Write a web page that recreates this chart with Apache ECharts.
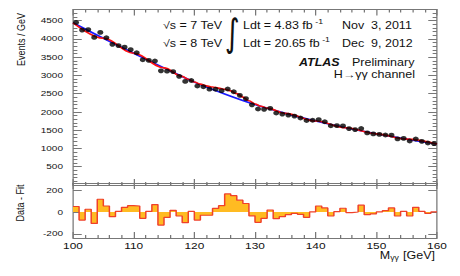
<!DOCTYPE html>
<html>
<head>
<meta charset="utf-8">
<script src="https://cdn.jsdelivr.net/npm/echarts@6/dist/echarts.min.js"></script>
<style>
html,body{margin:0;padding:0;background:#fff;overflow:hidden;}
#wrap{width:460px;height:276px;overflow:hidden;}
#chart{width:368px;height:276px;transform:scaleX(1.25);transform-origin:0 0;}
</style>
</head>
<body>
<div id="wrap"><div id="chart"></div></div>
<script>
// ---- data ----
const binLow = [100,101,102,103,104,105,106,107,108,109,110,111,112,113,114,115,116,117,118,119,
  120,121,122,123,124,125,126,127,128,129,130,131,132,133,134,135,136,137,138,139,
  140,141,142,143,144,145,146,147,148,149,150,151,152,153,154,155,156,157,158,159];
const binCenter = [100.5,101.5,102.5,103.5,104.5,105.5,106.5,107.5,108.5,109.5,110.5,111.5,112.5,113.5,114.5,115.5,116.5,117.5,118.5,119.5,
  120.5,121.5,122.5,123.5,124.5,125.5,126.5,127.5,128.5,129.5,130.5,131.5,132.5,133.5,134.5,135.5,136.5,137.5,138.5,139.5,
  140.5,141.5,142.5,143.5,144.5,145.5,146.5,147.5,148.5,149.5,150.5,151.5,152.5,153.5,154.5,155.5,156.5,157.5,158.5,159.5];
const eventsPerGeV = [4448,4239,4253,4038,4175,4029,3849,3815,3771,3704,3620,3427,3410,3393,3125,3116,3103,2973,2834,2859,
  2709,2688,2623,2621,2581,2627,2553,2453,2365,2194,2081,2070,2098,1970,1941,1914,1885,1833,1764,1771,
  1787,1732,1621,1624,1618,1543,1516,1545,1425,1399,1385,1368,1364,1261,1275,1205,1258,1194,1149,1134];
const dataMinusFit = [50,-74,25,-105,117,55,-43,5,43,58,55,-58,5,68,-120,-50,15,-37,-98,5,
  -74,-30,-30,33,58,166,150,108,78,-35,-95,-58,18,-62,-43,-25,-12,-22,-49,0,
  55,37,-37,3,34,-6,0,62,-25,-18,0,12,37,-37,6,-37,43,6,-12,0];
const bkgMass = [100,105,110,115,120,125,130,135,140,145,150,155,160];
const bkgFit  = [4440,4015,3605,3205,2815,2490,2200,1960,1750,1565,1400,1255,1120];
const sbMass = [100,105,110,115,118,119,120,121,122,123,124,125,126,127,128,129,130,131,132,135,140,145,150,155,160];
const sbFit  = [4440,4015,3605,3205,2972,2895,2820,2760,2712,2680,2652,2620,2575,2500,2405,2305,2218,2157,2105,1960,1750,1565,1400,1255,1120];
const xTicks = [100,110,120,130,140,150,160];
const yTicksTop = [500,1000,1500,2000,2500,3000,3500,4000,4500];
const yTicksBottom = [-200,0,200];

// ---- chart ----
const chart = echarts.init(document.getElementById('chart'), null, {renderer:'svg'});
const FONT = '"Liberation Sans", Arial, Helvetica, sans-serif';
const AX = '#777';
const pts = binCenter.map((x,i)=>[x, eventsPerGeV[i]]);
const bkg = bkgMass.map((x,i)=>[x, bkgFit[i]]);
const sb = sbMass.map((x,i)=>[x, sbFit[i]]);
const resid = binLow.map((x,i)=>[x, dataMinusFit[i]]);
resid.push([160, dataMinusFit[dataMinusFit.length-1]]);
const plain = v => String(v);

function xAx(grid, pos, showLabel){
  return {
    type:'value', gridIndex:grid, position:pos, min:100, max:160, interval:10,
    axisLine:{show:true, onZero:false, lineStyle:{color:AX, width:1}},
    axisTick:{show:true, inside:true, length:6, lineStyle:{color:AX}},
    minorTick:{show:true, splitNumber:5, length:3, lineStyle:{color:AX}},
    axisLabel:{show:showLabel, color:'#111', fontFamily:FONT, fontSize:9.5, margin:2,
      customValues: xTicks, formatter: plain},
    splitLine:{show:false}
  };
}
const yLabel = {color:'#111', fontFamily:FONT, fontSize:8, margin:8, formatter: plain};
const option = {
  animation:false,
  backgroundColor:'#fff',
  grid:[
    {left:58.4, right:18.4, top:9.6, bottom:91},
    {left:58.4, right:18.4, top:183, bottom:38}
  ],
  xAxis:[ xAx(0,'bottom',false), xAx(0,'top',false), xAx(1,'bottom',true), xAx(1,'top',false) ],
  yAxis:[
    {type:'value', gridIndex:0, position:'left', min:0, max:4800, interval:500,
     axisLine:{show:true, lineStyle:{color:AX}},
     axisTick:{show:true, inside:true, length:7, lineStyle:{color:AX}},
     minorTick:{show:true, splitNumber:5, length:3.5, lineStyle:{color:AX}},
     axisLabel:Object.assign({customValues: yTicksTop}, yLabel),
     splitLine:{show:false}},
    {type:'value', gridIndex:0, position:'right', min:0, max:4800, interval:500,
     axisLine:{show:true, lineStyle:{color:AX}},
     axisTick:{show:true, inside:true, length:7, lineStyle:{color:AX}},
     minorTick:{show:true, splitNumber:5, length:3.5, lineStyle:{color:AX}},
     axisLabel:{show:false}, splitLine:{show:false}},
    {type:'value', gridIndex:1, position:'left', min:-239, max:266,
     axisLine:{show:true, lineStyle:{color:AX}},
     axisTick:{show:true, inside:true, length:7, lineStyle:{color:AX}, customValues: yTicksBottom},
     axisLabel:Object.assign({customValues: yTicksBottom}, yLabel),
     splitLine:{show:false}},
    {type:'value', gridIndex:1, position:'right', min:-239, max:266,
     axisLine:{show:true, lineStyle:{color:AX}},
     axisTick:{show:true, inside:true, length:7, lineStyle:{color:AX}, customValues: yTicksBottom},
     axisLabel:{show:false}, splitLine:{show:false}}
  ],
  series:[
    {type:'line', name:'Background', xAxisIndex:0, yAxisIndex:0, data:bkg, smooth:0.35,
     showSymbol:false, lineStyle:{color:'#1a1aff', width:1.6}, z:2},
    {type:'line', name:'Signal + background', xAxisIndex:0, yAxisIndex:0, data:sb, smooth:0.35,
     smoothMonotone:'x', showSymbol:false, lineStyle:{color:'#ff1010', width:1.6}, z:3},
    {type:'scatter', name:'Data', xAxisIndex:0, yAxisIndex:0, data:pts, symbol:'circle',
     symbolSize:4.8, itemStyle:{color:'#000'}, z:4},
    {type:'line', name:'Data - Fit', xAxisIndex:2, yAxisIndex:2, data:resid, step:'end',
     showSymbol:false, lineStyle:{color:'#f0402a', width:1.2},
     areaStyle:{color:'#ffbb22', opacity:1}, z:2}
  ],
  graphic:[
    {type:'text', x:17, y:13, rotation:Math.PI/2, style:{text:'Events / GeV', font:'9px '+FONT, fill:'#111', align:'right', verticalAlign:'middle'}},
    {type:'text', x:16, y:203, rotation:Math.PI/2, style:{text:'Data - Fit', font:'9px '+FONT, fill:'#111', align:'center', verticalAlign:'middle'}},
    {type:'text', x:348, y:255, style:{text:'{m|M}{s|γγ} {m|[GeV]}', align:'right', verticalAlign:'middle',
      rich:{m:{font:'10px '+FONT, fill:'#111'}, s:{font:'7px '+FONT, fill:'#111', verticalAlign:'bottom', padding:[5,0,0,0]}}}},
    {type:'text', x:130.4, y:25, style:{text:'√s = 7 TeV', font:'10px '+FONT, fill:'#111', verticalAlign:'middle'}},
    {type:'text', x:130.4, y:43, style:{text:'√s = 8 TeV', font:'10px '+FONT, fill:'#111', verticalAlign:'middle'}},
    {type:'text', x:186, y:33, scaleX:0.6, style:{text:'∫', font:'38px "DejaVu Sans", sans-serif', fill:'#111', align:'center', verticalAlign:'middle'}},
    {type:'text', x:194.4, y:25, style:{text:'{a|Ldt = 4.83 fb}{b| -1}', verticalAlign:'middle',
      rich:{a:{font:'10px '+FONT, fill:'#111'}, b:{font:'7px '+FONT, fill:'#111', padding:[0,0,6,0]}}}},
    {type:'text', x:194.4, y:43, style:{text:'{a|Ldt = 20.65 fb}{b| -1}', verticalAlign:'middle',
      rich:{a:{font:'10px '+FONT, fill:'#111'}, b:{font:'7px '+FONT, fill:'#111', padding:[0,0,6,0]}}}},
    {type:'text', x:273.6, y:25, style:{text:'Nov  3, 2011', font:'10px '+FONT, fill:'#111', verticalAlign:'middle'}},
    {type:'text', x:273.6, y:43, style:{text:'Dec  9, 2012', font:'10px '+FONT, fill:'#111', verticalAlign:'middle'}},
    {type:'text', x:239.2, y:62, style:{text:'ATLAS', font:'italic bold 10px '+FONT, fill:'#111', verticalAlign:'middle'}},
    {type:'text', x:281.6, y:62, style:{text:'Preliminary', font:'10px '+FONT, fill:'#111', verticalAlign:'middle'}},
    {type:'text', x:332, y:74, style:{text:'H→γγ channel', font:'10px '+FONT, fill:'#111', align:'right', verticalAlign:'middle'}}
  ]
};
chart.setOption(option);
</script>
</body>
</html>
